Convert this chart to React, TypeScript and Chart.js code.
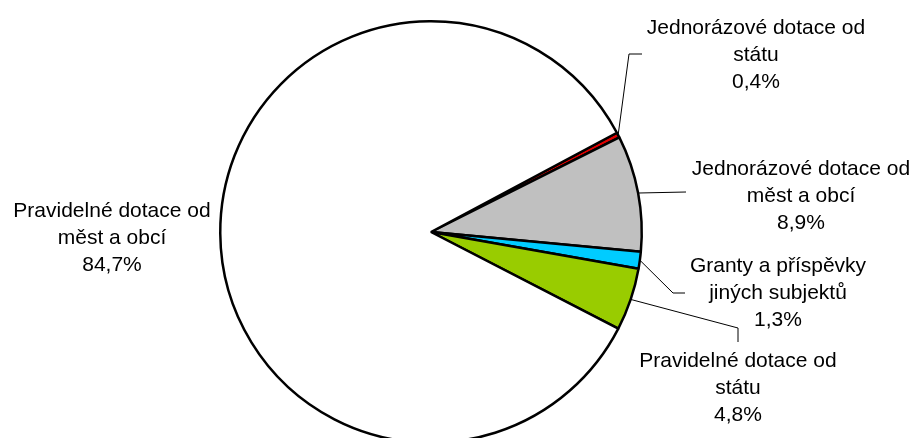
import React, { useEffect, useRef } from "react";
import { Chart, registerables } from "chart.js";

Chart.register(...registerables);

const categories = [
  "Jednorázové dotace od státu",
  "Jednorázové dotace od měst a obcí",
  "Granty a příspěvky jiných subjektů",
  "Pravidelné dotace od státu",
  "Pravidelné dotace od měst a obcí",
];
const labelLines = [
  ["Jednorázové dotace od", "státu"],
  ["Jednorázové dotace od", "měst a obcí"],
  ["Granty a příspěvky", "jiných subjektů"],
  ["Pravidelné dotace od", "státu"],
  ["Pravidelné dotace od", "měst a obcí"],
];
const values = [0.4, 8.9, 1.3, 4.8, 84.7];
const colors = ["#E00000", "#C0C0C0", "#00CCFF", "#99CC00", "#FFFFFF"];

// label layout: text center x, first baseline y, leader elbow points
const labelLayout = [
  { x: 756, y: 34, elbow: [[629, 54], [642, 54]] },
  { x: 801, y: 175, elbow: [[686, 192]] },
  { x: 778, y: 272, elbow: [[673, 293], [685, 293]] },
  { x: 738, y: 367, elbow: [[738, 328], [738, 342]] },
  { x: 112, y: 217, elbow: [] as number[][] },
];

const fmt = (v: number) => v.toFixed(1).replace(".", ",") + "%";

const labelPlugin = {
  id: "pieLabels",
  afterDraw(chart: any) {
    const ctx = chart.ctx;
    const meta = chart.getDatasetMeta(0);
    ctx.save();
    meta.data.forEach((arc: any, i: number) => {
      const p = arc.getProps(["x", "y", "startAngle", "endAngle", "outerRadius"], true);
      const mid = (p.startAngle + p.endAngle) / 2;
      const lay = labelLayout[i];
      if (lay.elbow.length) {
        const sx = p.x + Math.cos(mid) * p.outerRadius;
        const sy = p.y + Math.sin(mid) * p.outerRadius;
        ctx.beginPath();
        ctx.strokeStyle = "#000";
        ctx.lineWidth = 1;
        ctx.moveTo(sx, sy);
        lay.elbow.forEach((pt) => ctx.lineTo(pt[0], pt[1]));
        ctx.stroke();
      }
      ctx.fillStyle = "#000";
      ctx.font = '21px "Liberation Sans", Arial, sans-serif';
      ctx.textAlign = "center";
      ctx.textBaseline = "alphabetic";
      const lines = [...labelLines[i], fmt(values[i])];
      lines.forEach((t, k) => ctx.fillText(t, lay.x, lay.y + k * 27));
    });
    ctx.restore();
  },
};

export default function App() {
  const ref = useRef<HTMLCanvasElement>(null);
  useEffect(() => {
    if (!ref.current) return;
    const chart = new Chart(ref.current, {
      type: "pie",
      data: {
        labels: categories,
        datasets: [
          {
            data: values,
            backgroundColor: colors,
            borderColor: "#000000",
            borderWidth: 2.5,
          },
        ],
      },
      options: {
        responsive: false,
        animation: false,
        devicePixelRatio: 1,
        rotation: 61.9,
        layout: { padding: { left: 219, right: 272, top: 20, bottom: 20 } },
        plugins: {
          legend: { display: false },
          tooltip: { enabled: false },
        },
      },
      plugins: [labelPlugin],
    });
    return () => chart.destroy();
  }, []);
  return (
    <div
      style={{
        position: "fixed",
        left: 0,
        top: 0,
        width: 915,
        height: 438,
        overflow: "hidden",
        background: "#fff",
      }}
    >
      <canvas ref={ref} width={915} height={464} style={{ display: "block" }} />
    </div>
  );
}
